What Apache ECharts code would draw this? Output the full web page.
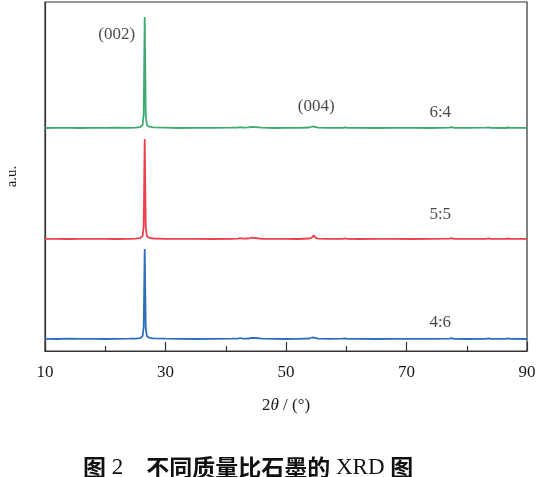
<!DOCTYPE html>
<html>
<head>
<meta charset="utf-8">
<script src="https://cdn.jsdelivr.net/npm/echarts@6/dist/echarts.min.js"></script>
<style>
  html, body { margin: 0; padding: 0; background: #fff; }
  #xrd { width: 543px; height: 477px; }
</style>
</head>
<body>
<div id="xrd"></div>
<script>
// 2θ (°)
const twoTheta = [10, 12, 14, 16, 18, 20, 22, 24, 25, 25.8, 26.2, 26.38, 26.55, 26.72, 26.9, 27.3, 28, 30, 32, 35, 38, 41,
  42.0, 42.4, 42.8, 43.8, 44.3, 44.6, 44.9, 46, 48, 50, 52, 53.9, 54.35, 54.6, 54.85, 55.3, 57, 59.4, 59.8, 60.2,
  62, 65, 68, 71, 74, 77.1, 77.5, 77.9, 80, 83.2, 83.6, 84, 86.5, 86.9, 87.3, 90];
// 强度 (a.u.)，各自基线为 0
const int46 = [0.2, 0, 0.3, 0.1, 0.2, 0, 0.2, 0.3, 0.4, 0.8, 3, 12, 90, 11, 3, 1.2, 0.6, 0.3, 0.2, 0, 0.2, 0.3,
  0.4, 1, 0.4, 0.5, 1.2, 2, 1, 0.3, 0.2, 0, 0.2, 0.5, 1.5, 3.2, 1.2, 0.3, 0.2, 0.3, 0.7, 0.2,
  0.1, 0, 0.2, 0.1, 0.2, 0.3, 0.8, 0.2, 0, 0.2, 0.7, 0.1, 0.2, 0.6, 0.1, 0];
const int55 = [0.1, 0.2, 0, 0.2, 0.1, 0.2, 0, 0.2, 0.4, 0.9, 3, 13, 100, 12, 3, 1.2, 0.5, 0.2, 0.1, 0.2, 0, 0.2,
  0.3, 0.9, 0.3, 0.5, 1.3, 2.2, 1, 0.2, 0.1, 0.2, 0, 0.5, 1.6, 3.8, 1.4, 0.3, 0.1, 0.2, 0.6, 0.2,
  0, 0.1, 0.2, 0, 0.1, 0.3, 0.9, 0.2, 0.1, 0.2, 0.6, 0.1, 0.1, 0.5, 0.1, 0.2];
const int64 = [0, 0.2, 0.1, 0, 0.2, 0.1, 0.3, 0.2, 0.4, 0.9, 3, 14, 111, 13, 3, 1.3, 0.6, 0.3, 0, 0.2, 0.1, 0.3,
  0.4, 0.9, 0.3, 0.6, 1.2, 2, 0.9, 0.3, 0, 0.2, 0.1, 0.5, 1.5, 3.4, 1.2, 0.3, 0.2, 0.1, 0.6, 0.1,
  0.2, 0, 0.1, 0.2, 0, 0.3, 0.8, 0.2, 0.1, 0.3, 0.7, 0.2, 0, 0.5, 0.2, 0.1];
const sampleNames = ['4:6', '5:5', '6:4'];
const offsets = [12, 112, 223];
const colors = ['#2f6fbf', '#ee3f4c', '#3fa972'];
const xTicks = [10, 30, 50, 70, 90];
// 标注文字位置 (2θ, 纵坐标)
const nameX = 75.6;
const nameY = [28, 136, 238];
const peakLabels = ['(002)', '(004)'];
const peakPos = [[21.9, 316], [55.0, 244]];

const chart = echarts.init(document.getElementById('xrd'));
const intensities = [int46, int55, int64];
const serif = '"Liberation Serif", "Times New Roman", serif';
const cjk = '"Noto Sans CJK SC", sans-serif';

const textLabel = {
  show: true,
  position: 'inside',
  formatter: p => p.data[2],
  color: '#1a1a1a',
  fontFamily: serif,
  fontSize: 17
};

const series = intensities.map((arr, i) => ({
  name: sampleNames[i],
  type: 'line',
  showSymbol: false,
  symbol: 'none',
  animation: false,
  lineStyle: { color: colors[i], width: 1.8 },
  data: twoTheta.map((t, k) => [t, arr[k] + offsets[i]]),
  z: 3
}));

// 样品名称
series.push({
  type: 'scatter',
  symbolSize: 0,
  animation: false,
  silent: true,
  label: textLabel,
  data: sampleNames.map((n, i) => [nameX, nameY[i], n])
});
// 晶面标注
series.push({
  type: 'scatter',
  symbolSize: 0,
  animation: false,
  silent: true,
  label: textLabel,
  data: peakLabels.map((n, i) => [peakPos[i][0], peakPos[i][1], n])
});

chart.setOption({
  backgroundColor: '#fff',
  animation: false,
  title: {
    text: '{c|图}{s| 2}{c|　不同质量比石墨的}{s| XRD }{c|图}',
    left: 78,
    top: 451,
    textStyle: {
      rich: {
        c: { fontFamily: cjk, fontWeight: 'bold', fontSize: 23, color: '#111' },
        s: { fontFamily: serif, fontWeight: 'normal', fontSize: 23, color: '#111' }
      }
    }
  },
  grid: {
    left: 45,
    right: 16,
    top: 2,
    bottom: 126,
    outerBoundsMode: 'none',
    show: true,
    borderColor: '#333',
    borderWidth: 1.2
  },
  xAxis: {
    type: 'value',
    min: 10,
    max: 90,
    interval: 20,
    name: '{n|2}{i|θ}{n| / (°)}',
    nameLocation: 'middle',
    nameGap: 46,
    nameTextStyle: {
      rich: {
        n: { fontFamily: serif, fontSize: 17, color: '#1a1a1a' },
        i: { fontFamily: serif, fontSize: 17, fontStyle: 'italic', color: '#1a1a1a' }
      }
    },
    axisLine: { lineStyle: { color: '#333', width: 1.2 } },
    axisTick: { inside: true, length: 9, lineStyle: { color: '#333', width: 1.2 } },
    minorTick: { show: true, splitNumber: 2, length: 5, lineStyle: { color: '#333', width: 1.2 } },
    splitLine: { show: false },
    axisLabel: {
      margin: 13,
      fontFamily: serif,
      fontSize: 17,
      color: '#1a1a1a',
      formatter: v => xTicks.indexOf(v) >= 0 ? String(v) : ''
    }
  },
  yAxis: {
    type: 'value',
    min: 0,
    max: 349,
    name: 'a.u.',
    nameLocation: 'middle',
    nameGap: 25,
    nameRotate: 90,
    nameTextStyle: { fontFamily: serif, fontSize: 15, color: '#1a1a1a' },
    axisLine: { show: true, lineStyle: { color: '#333', width: 1.2 } },
    axisTick: { show: false },
    axisLabel: { show: false },
    splitLine: { show: false }
  },
  series: series
});
</script>
</body>
</html>
